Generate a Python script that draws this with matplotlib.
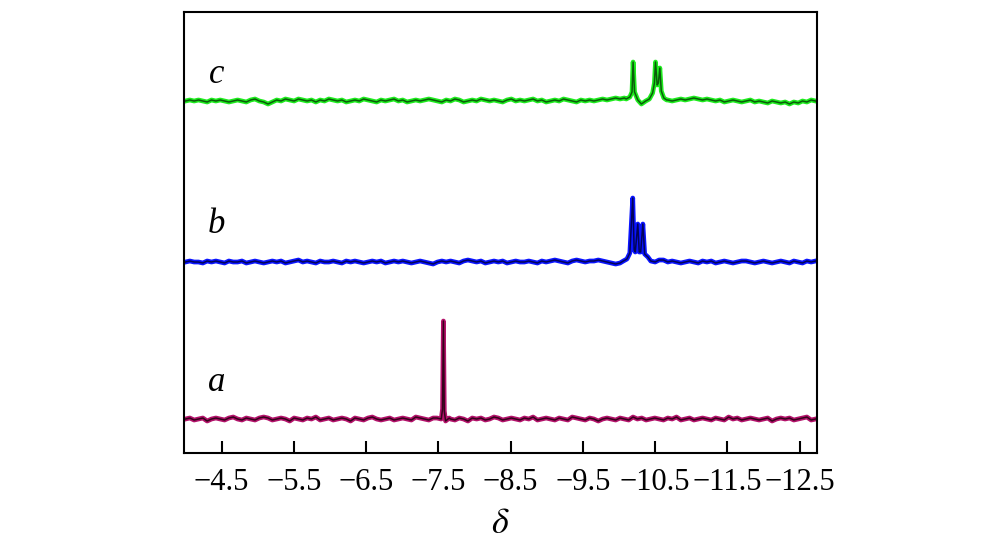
import numpy as np
import matplotlib
matplotlib.use('Agg')
import matplotlib.pyplot as plt

plt.rcParams['font.family'] = ['Liberation Serif', 'DejaVu Serif']
plt.rcParams['mathtext.fontset'] = 'stix'

# chemical shift range of the sampled baseline
x_start, x_end = -4.0, -12.72

# baseline noise (pixel-like units above each trace's baseline)
c_noise = [0, 1, 0, 1, 0, -1, 1, 0, 1, 0, -1, 0, 1, 0, -1, 1, 2, 0, -1, -3,
           -1, 1, 0, 2, 1, 0, 2, 1, 0, 1, -1, 1, 0, 2, 1, 0, 1, -1, 0, 1,
           0, 2, 1, 0, -1, 1, 0, 1, 2, 0, 1, -1, 0, 1, 0, 1, 2, 1, 0, -1,
           1, 0, 2, 1, -1, 0, 1, 0, 2, 1, 0, 1, 0, -1, 1, 2, 0, 1, 0, 1,
           2, 0, 1, -1, 0, 1, 0, 2, 1, 0, -1, 1, 0, 1, 0, 1, 2, 1, 2, 3,
           2, 3, 2, 2, 1, 1, 0, 0, 1, 0, 0, 1, 0, 1, 2, 1, 2, 3, 2, 1,
           2, 1, 0, 1, -1, 0, 1, 0, -1, 0, 1, -1, 0, -1, -2, 0, -1, -2, -1, -3,
           -1, -2, 0, -1, 1, 0]
b_noise = [0, 1, 0, 0, -1, 1, 0, 1, 0, -1, 1, 0, 0, 1, -1, 0, 1, 0, -1, 0,
           1, 0, 1, -1, 0, 1, 2, 0, 1, 0, -1, 1, 0, 0, 1, 0, -1, 1, 0, 1,
           0, -1, 0, 1, 0, 1, -1, 0, 1, 0, 1, 0, -1, 0, 1, 0, -1, -2, 0, 1,
           0, 1, 0, -1, 1, 2, 1, 0, 1, -1, 0, 1, 0, 1, -1, 0, 1, 0, 0, 1,
           0, -1, 1, 0, 1, 2, 1, 0, -1, 1, 2, 1, 0, 1, 1, 2, 1, 0, -1, -2,
           -1, 1, 2, 2, 2, 2, 2, 2, 2, 2, 2, 0, 1, 0, -1, 0, 1, 0, -1, 1,
           0, 1, -1, 0, 1, 0, -1, 0, 1, 1, 0, -1, 0, 1, 0, -1, 0, 1, 0, -1,
           1, 0, -1, 1, 0, 1]
a_noise = [0, 1, -1, 0, 1, -2, 0, 1, 0, -1, 1, 2, 0, -1, 1, 0, -1, 1, 2, 1,
           -1, 0, 1, 0, -2, 1, 0, -1, 1, 0, 2, -1, 0, 1, -1, 0, 1, 0, -2, 1,
           0, -1, 1, 2, 0, -1, 0, 1, -1, 0, 1, 0, -1, 2, 1, 0, -1, 1, 0, -1,
           1, 0, -1, 1, 0, -2, 1, 0, 1, -1, 0, 2, 1, -1, 0, 1, 0, -1, 1, 0,
           2, -1, 0, 1, 0, -1, 1, 0, -1, 2, 1, 0, -1, 1, 0, -2, 0, 1, 0, -1,
           1, 0, -1, 2, 0, 1, -1, 0, 1, 0, -1, 1, 0, 2, -1, 0, 1, -1, 0, 1,
           0, -1, 1, 0, -1, 2, 0, 1, -1, 0, 1, 0, -1, 0, 1, -2, 0, 1, 0, 1,
           -1, 0, 1, 2, -1, 0]

# peak regions: shift values and heights
c_peak_x = [-10.10, -10.15, -10.18, -10.195, -10.215, -10.26, -10.31, -10.37, -10.42,
            -10.465, -10.49, -10.505, -10.528, -10.545, -10.565, -10.585, -10.62, -10.66]
c_peak_y = [2, 4, 9, 39, 9, 1, -3, 0, 2, 8, 18, 39, 16, 18, 33, 10, 3, 1]
b_peak_x = [-10.06, -10.11, -10.15, -10.19, -10.21, -10.225, -10.26, -10.28,
            -10.30, -10.33, -10.355, -10.40, -10.44, -10.50]
b_peak_y = [1, 3, 9, 64, 12, 10, 38, 10, 10, 38, 8, 5, 1, 0]
a_peak_x = [-7.48, -7.54, -7.558, -7.57, -7.582, -7.60, -7.65]
a_peak_y = [1, 0, 10, 98, 8, -2, 1]

labels = ['c', 'b', 'a']
baselines = [352, 191, 34]
label_y = [370, 220, 62]
outline_colors = ['#1EEB1E', '#0a14ff', '#B3126A']
core_colors = ['#063806', '#000030', '#150008']


def build_trace(noise, px, py, base):
    grid = np.linspace(x_start, x_end, len(noise))
    noise = np.asarray(noise, dtype=float)
    keep = (grid > max(px)) | (grid < min(px))
    xs = np.concatenate([grid[keep], px])
    ys = np.concatenate([noise[keep], py])
    order = np.argsort(-xs)
    return xs[order], ys[order] + base


traces = [(c_noise, c_peak_x, c_peak_y), (b_noise, b_peak_x, b_peak_y),
          (a_noise, a_peak_x, a_peak_y)]

fig = plt.figure(figsize=(10, 5.53), dpi=100)
ax = fig.add_axes([0.184, 0.1808, 0.633, 0.7975])

for i, (nz, px, py) in enumerate(traces):
    xs, ys = build_trace(nz, px, py, baselines[i])
    ax.plot(xs, ys, color=outline_colors[i], lw=3.4, solid_joinstyle='round')
    ax.plot(xs, ys, color=core_colors[i], lw=1.1, alpha=0.8)
    ax.text(-4.435, label_y[i], labels[i], fontsize=25, style='italic',
            ha='center', va='baseline')

ax.set_xlim(-3.98, -12.74)
ax.set_ylim(0, 441)
ticks = [-4.5, -5.5, -6.5, -7.5, -8.5, -9.5, -10.5, -11.5, -12.5]
ax.set_xticks(ticks)
ax.set_xticklabels(['\u2212' + str(abs(t)) for t in ticks])
ax.set_yticks([])
ax.tick_params(axis='x', direction='in', length=9, width=1.5, labelsize=22, pad=11)
for sp in ax.spines.values():
    sp.set_linewidth(1.5)
ax.set_xlabel(r'$\delta$', fontsize=26, labelpad=8)

fig.savefig('out.png', dpi=100)
